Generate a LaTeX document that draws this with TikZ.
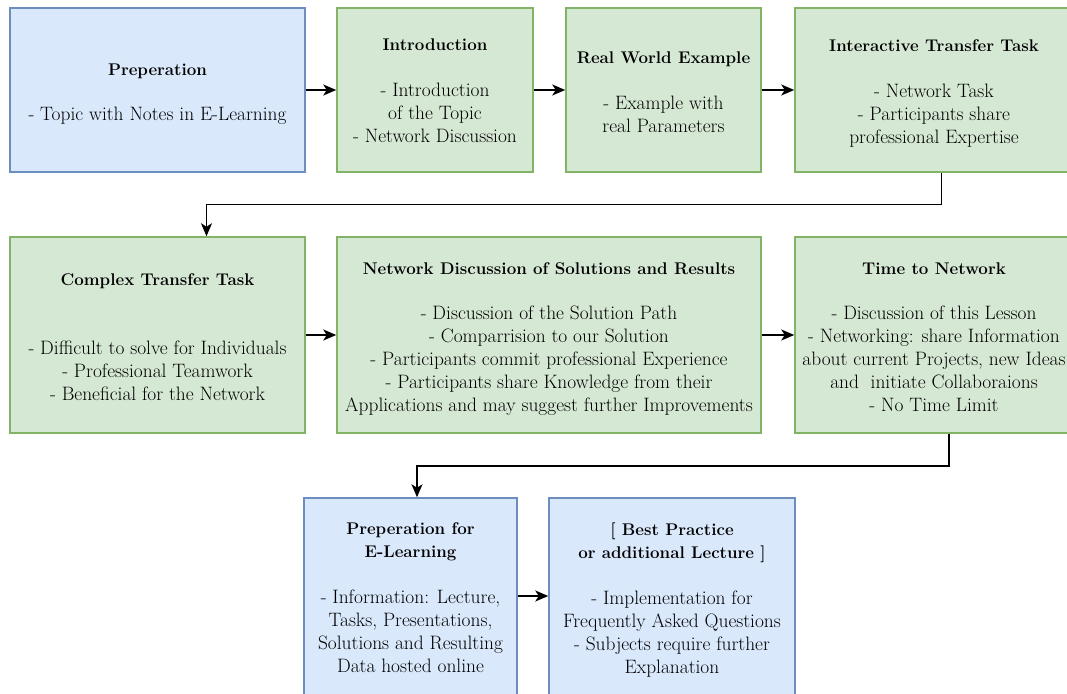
\documentclass[tikz,border=0pt]{standalone}
\usetikzlibrary{arrows.meta}
\definecolor{bfill}{HTML}{DAE8FC}
\definecolor{bdraw}{HTML}{6C8EBF}
\definecolor{gfill}{HTML}{D5E8D4}
\definecolor{gdraw}{HTML}{82B366}
\newcommand{\ttl}[1]{{\fontsize{16.9}{23}\selectfont\bfseries #1}}
\tikzset{
  box/.style={rectangle, line width=1.5pt, inner sep=0pt},
  bluebox/.style={box, fill=bfill, draw=bdraw},
  greenbox/.style={box, fill=gfill, draw=gdraw},
  txt/.style={inner sep=0pt, align=center,
    font=\rmfamily\fontsize{19.4}{23}\selectfont, text=black,
    execute at begin node={\rule{0pt}{19pt}}, execute at end node={\strut}},
  conn/.style={line width=1.5pt, draw=black,
    -{Stealth[length=13pt,width=11pt,inset=3.5pt]}}
}
\begin{document}
\begin{tikzpicture}[x=1pt,y=-1pt]
\useasboundingbox (0,0) rectangle (1067,693);
\clip (0,0) rectangle (1067,693);
% boxes
\node[bluebox, minimum width=295pt, minimum height=164pt] (prep) at (157.5,90) {};
\node[greenbox, minimum width=196pt, minimum height=164pt] (intro) at (435,90) {};
\node[greenbox, minimum width=195pt, minimum height=164pt] (rwe) at (663.5,90) {};
\node[greenbox, minimum width=278pt, minimum height=164pt] (itt) at (934,90) {};
\node[greenbox, minimum width=295pt, minimum height=196pt] (ctt) at (157.5,335) {};
\node[greenbox, minimum width=424pt, minimum height=196pt] (nds) at (549,335) {};
\node[greenbox, minimum width=278pt, minimum height=196pt] (ttn) at (934,335) {};
\node[bluebox, minimum width=213pt, minimum height=200pt] (pel) at (410.5,598) {};
\node[bluebox, minimum width=246pt, minimum height=200pt] (bp) at (672,598) {};
% texts
\node[txt, yshift=-6pt] (prepT) at (prep.center)
  {\ttl{Preperation}\\[22pt]- Topic with Notes in E-Learning};
\node[txt, yshift=-4.5pt] (introT) at (intro.center)
  {\ttl{Introduction}\\[23pt]- Introduction\\of the Topic\\- Network Discussion};
\node[txt, yshift=-6pt] (rweT) at (rwe.center)
  {\ttl{Real World Example}\\[23pt]- Example with\\real Parameters};
\node[txt, yshift=-5.5pt] (ittT) at (itt.center)
  {\ttl{Interactive Transfer Task}\\[23pt]- Network Task\\- Participants share\\professional Expertise};
\node[txt, yshift=-6pt] (cttT) at (ctt.center)
  {\ttl{Complex Transfer Task}\\[46pt]- Difficult to solve for Individuals\\- Professional Teamwork\\- Beneficial for the Network};
\node[txt, yshift=-5.5pt] (ndsT) at (nds.center)
  {\ttl{Network Discussion of Solutions and Results}\\[22pt]- Discussion of the Solution Path\\- Comparrision to our Solution\\- Participants commit professional Experience\\- Participants share Knowledge from their\\Applications and may suggest further Improvements};
\node[txt, yshift=-6pt] (ttnT) at (ttn.center)
  {\ttl{Time to Network}\\[22pt]- Discussion of this Lesson\\- Networking: share Information\\about current Projects, new Ideas\\and\ \ initiate Collaboraions\\- No Time Limit};
\node[txt, yshift=-3.5pt] (pelT) at (pel.center)
  {\ttl{Preperation for}\\\ttl{E-Learning}\\[23pt]- Information: Lecture,\\Tasks, Presentations,\\Solutions and Resulting\\Data hosted online};
\node[txt, yshift=-4pt] (bpT) at (bp.center)
  {\ttl{[ Best Practice}\\\ttl{or additional Lecture ]}\\[23pt]- Implementation for\\Frequently Asked Questions\\- Subjects require further\\Explanation};
% connectors
\draw[conn] (prep.east) -- (intro.west);
\draw[conn] (intro.east) -- (rwe.west);
\draw[conn] (rwe.east) -- (itt.west);
\coordinate (k1) at (941.5,204.5);
\coordinate (k2) at (206.5,204.5);
\draw[conn] (itt.south -| k1) -- (k1) -- (k2) -- (ctt.north -| k2);
\draw[conn] (ctt.east) -- (nds.west);
\draw[conn] (nds.east) -- (ttn.west);
\coordinate (k3) at (949,466);
\coordinate (k4) at (417,466);
\draw[conn] (ttn.south -| k3) -- (k3) -- (k4) -- (pel.north -| k4);
\draw[conn] ([yshift=2pt]pel.east) -- ([yshift=2pt]bp.west);
\end{tikzpicture}
\end{document}
